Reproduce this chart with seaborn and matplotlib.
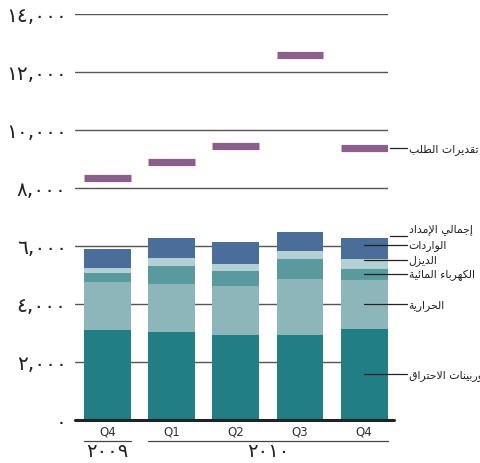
import numpy as np
import pandas as pd
import matplotlib
matplotlib.use("Agg")
import matplotlib.pyplot as plt
import matplotlib.transforms as mtransforms
import seaborn as sns

# ---------------- data ----------------
quarters = ["Q4", "Q1", "Q2", "Q3", "Q4"]
years = ["٢٠٠٩", "٢٠١٠"]
year_of = [0, 1, 1, 1, 1]
combustion = [3100, 3030, 2930, 2930, 3140]
thermal = [1660, 1660, 1690, 1930, 1690]
hydro = [310, 620, 515, 690, 380]
diesel = [170, 275, 240, 275, 345]
imports = [660, 690, 760, 655, 725]
demand = [8350, 8880, 9450, 12600, 9370]
yticks = [0, 2000, 4000, 6000, 8000, 10000, 12000, 14000]

lbl_demand = "تقديرات الطلب"
lbl_total = "إجمالي الإمداد"
lbl_imports = "الواردات"
lbl_diesel = "الديزل"
lbl_hydro = "الكهرباء المائية"
lbl_thermal = "الحرارية"
lbl_comb = "توربينات الاحتراق"

c_comb = "#217e85"
c_thermal = "#8cb6ba"
c_hydro = "#589a9e"
c_diesel = "#b3d0d4"
c_imports = "#4a6d99"
c_demand = "#8c5e8b"

# ---------------- arabic shaping helper ----------------
DUAL = {'ب': 0xFE8F, 'ت': 0xFE95, 'ج': 0xFE9D, 'ح': 0xFEA1, 'ط': 0xFEC1,
        'ق': 0xFED5, 'ك': 0xFED9, 'ل': 0xFEDD, 'م': 0xFEE1, 'ن': 0xFEE5,
        'ه': 0xFEE9, 'ي': 0xFEF1, 'ئ': 0xFE89}
RIGHT = {'ا': 0xFE8D, 'إ': 0xFE87, 'ة': 0xFE93, 'د': 0xFEA9, 'ر': 0xFEAD,
         'ز': 0xFEAF, 'و': 0xFEED}
NONJ = {'ء': 0xFE80}
LAMALEF = {'ا': 0xFEFB, 'إ': 0xFEF9, 'أ': 0xFEF7, 'آ': 0xFEF5}


def shape_word(w):
    toks = []
    i = 0
    while i < len(w):
        c = w[i]
        if c == 'ل' and i + 1 < len(w) and w[i + 1] in LAMALEF:
            toks.append(('R', LAMALEF[w[i + 1]]))
            i += 2
            continue
        if c in DUAL:
            toks.append(('D', DUAL[c]))
        elif c in RIGHT:
            toks.append(('R', RIGHT[c]))
        elif c in NONJ:
            toks.append(('U', NONJ[c]))
        else:
            toks.append(('X', ord(c)))
        i += 1
    out = []
    for k, (t, b) in enumerate(toks):
        if t in ('U', 'X'):
            out.append(chr(b))
            continue
        prev = toks[k - 1][0] if k > 0 else None
        nxt = toks[k + 1][0] if k + 1 < len(toks) else None
        jp = prev == 'D'
        jn = t == 'D' and nxt in ('D', 'R')
        off = 3 if (jp and jn) else 1 if jp else 2 if jn else 0
        out.append(chr(b + off))
    return ''.join(reversed(out))


def ar(s):
    # visual order for right-to-left display
    return ' '.join(shape_word(w) for w in reversed(s.split()))


AR_DIGITS = str.maketrans("0123456789", "٠١٢٣٤٥٦٧٨٩")


def ar_num(v):
    return f"{int(v):,}".translate(AR_DIGITS)


# ---------------- figure ----------------
sns.set_theme(style="white")
plt.rcParams['font.family'] = ['DejaVu Sans']

W, H = 481, 464
fig = plt.figure(figsize=(W / 100, H / 100), dpi=100)
ax = fig.add_axes([75 / W, 43 / H, 313 / W, 406 / H])

period = [f"{q}-{i}" for i, q in enumerate(quarters)]
df = pd.DataFrame({
    "period": period,
    "combustion": combustion, "thermal": thermal, "hydro": hydro,
    "diesel": diesel, "imports": imports,
})
layers = [("combustion", c_comb), ("thermal", c_thermal), ("hydro", c_hydro),
          ("diesel", c_diesel), ("imports", c_imports)]
vals = np.array([df[n].values for n, _ in layers])
cums = np.cumsum(vals, axis=0)
BW = 0.73
for idx in range(len(layers) - 1, -1, -1):
    d = pd.DataFrame({"period": period, "v": cums[idx]})
    sns.barplot(data=d, x="period", y="v", order=period, color=layers[idx][1],
                saturation=1, width=BW, linewidth=0, ax=ax, zorder=2)

xs = np.arange(len(period))
ax.hlines(demand, xs - BW / 2, xs + BW / 2, color=c_demand, lw=5.2,
          zorder=3, capstyle="butt")

ax.set_xlim(-0.505, 4.37)
ax.set_ylim(0, 14000)
for yv in yticks[1:]:
    ax.axhline(yv, color="#555555", lw=1.0, zorder=1)
ax.axhline(0, xmin=0, xmax=1.02, color="#222222", lw=2.2, zorder=4, clip_on=False)

for s in ax.spines.values():
    s.set_visible(False)
ax.set_yticks(yticks)
ax.set_yticklabels([ar_num(v) for v in yticks], fontsize=14.5, color="#222222")
ax.tick_params(axis="y", length=0, pad=6)
ax.set_xticks(xs)
ax.set_xticklabels(quarters, fontsize=8.5, color="#333333")
ax.tick_params(axis="x", length=0, pad=3)
ax.set_xlabel("")
ax.set_ylabel("")

# year grouping lines and labels
btf = mtransforms.blended_transform_factory(ax.transData, fig.transFigure)
ly = (H - 441.7) / H
ty = (H - 452) / H
for yi, yr in enumerate(years):
    members = [i for i, y in enumerate(year_of) if y == yi]
    x0, x1 = min(members) - BW / 2, max(members) + BW / 2
    ax.plot([x0, x1], [ly, ly], transform=btf, color="#444444", lw=0.9, clip_on=False)
    ax.text((x0 + x1) / 2, ty, yr, transform=btf, ha="center", va="center",
            fontsize=14, color="#222222")

# right-side labels with leader lines
last = len(period) - 1
x_text = last + (409 - 364.5) / 64.25
x_end = last + (407 - 364.5) / 64.25
mids = (cums - vals / 2)[:, last]
# keep labels at least a small gap apart
gap = 510
ypos = []
for m in mids:
    y = m if not ypos else max(m, ypos[-1] + gap)
    ypos.append(y)
seg_labels = [lbl_comb, lbl_thermal, lbl_hydro, lbl_diesel, lbl_imports]
FS = 7.8
for lab, yv in zip(seg_labels, ypos):
    ax.plot([last, x_end], [yv, yv], color="#222222", lw=0.9, zorder=5, clip_on=False)
    ax.text(x_text, yv, ar(lab), ha="left", va="center", fontsize=FS,
            color="#222222", clip_on=False)

total_last = cums[-1, last]
x_out = last + BW / 2 + 0.03
ax.plot([x_out, x_end], [total_last + 50, total_last + 50], color="#222222",
        lw=0.9, clip_on=False)
ax.text(x_text, total_last + 310, ar(lbl_total), ha="left", va="center",
        fontsize=FS, color="#222222", clip_on=False)

ax.plot([x_out, x_end], [demand[last], demand[last]], color="#222222",
        lw=0.9, clip_on=False)
ax.text(x_text, demand[last], ar(lbl_demand), ha="left", va="center",
        fontsize=FS, color="#222222", clip_on=False)

fig.savefig("out.png", dpi=100)
